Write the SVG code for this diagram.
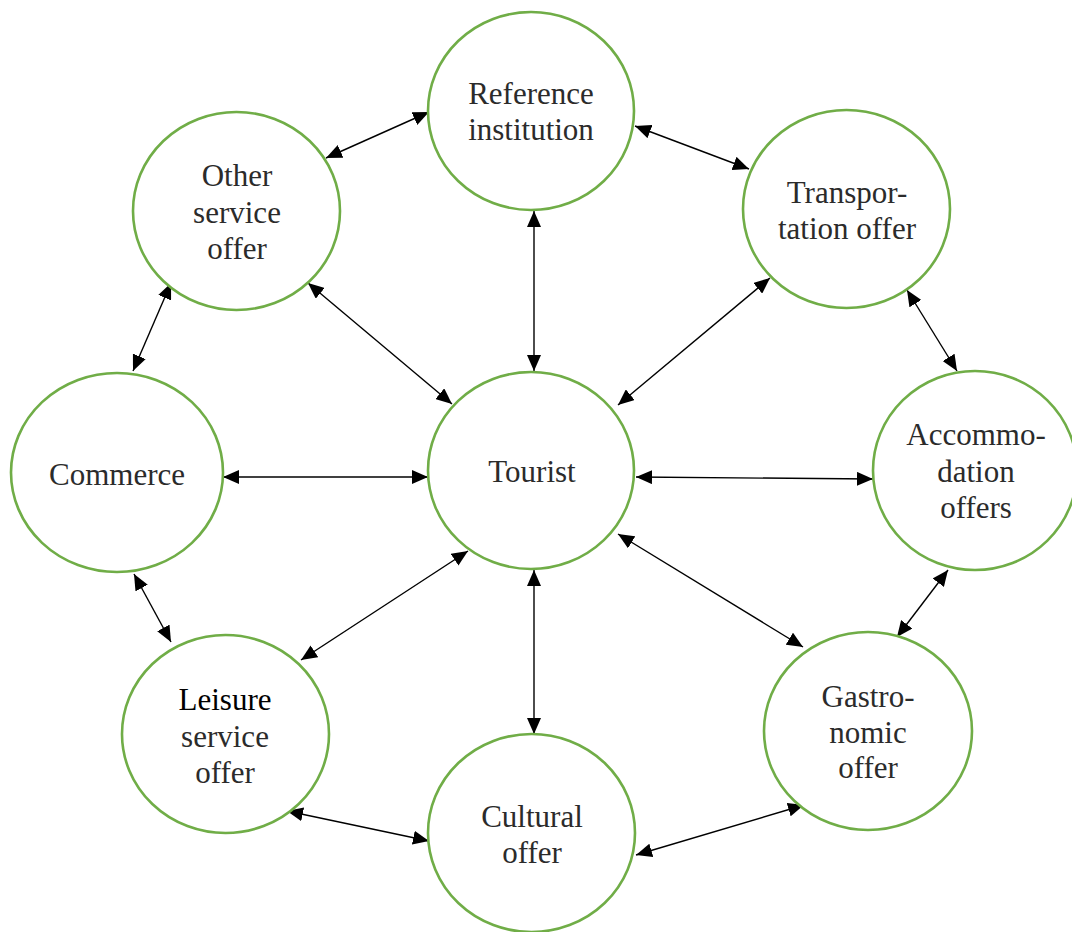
<svg xmlns="http://www.w3.org/2000/svg" width="1072" height="932" viewBox="0 0 1072 932">
<defs>
<marker id="arr" viewBox="0 0 16 14" refX="16" refY="7" markerWidth="16" markerHeight="14" markerUnits="userSpaceOnUse" orient="auto-start-reverse">
<path d="M0,0 L16,7 L0,14 Z" fill="#000"/>
</marker>
<style>
.node ellipse{fill:#fff;stroke:#70AD47;stroke-width:2.6}
.node text{font-family:"Liberation Serif","Times New Roman",serif;font-size:31px;fill:#2b2b2b;text-anchor:middle}
.conn line{stroke:#000;stroke-width:1.4;marker-start:url(#arr);marker-end:url(#arr)}
</style>
</defs>
<rect width="1072" height="932" fill="#fff"/>
<g id="connectors" class="conn">
<line x1="326" y1="158" x2="429" y2="112"/>
<line x1="635" y1="126" x2="749" y2="169"/>
<line x1="534" y1="211" x2="534" y2="371"/>
<line x1="308" y1="283" x2="452" y2="404"/>
<line x1="770" y1="278" x2="618" y2="405"/>
<line x1="171" y1="283" x2="133" y2="371"/>
<line x1="907" y1="290" x2="957" y2="371"/>
<line x1="223" y1="477" x2="428" y2="477"/>
<line x1="636" y1="477" x2="873" y2="479"/>
<line x1="134" y1="574" x2="171" y2="642"/>
<line x1="468" y1="551" x2="301" y2="660"/>
<line x1="534" y1="570" x2="534" y2="734"/>
<line x1="618" y1="534" x2="803" y2="647"/>
<line x1="948" y1="570" x2="897" y2="637"/>
<line x1="287" y1="811" x2="429" y2="841"/>
<line x1="636" y1="855" x2="804" y2="805"/>
</g>
<g id="reference" class="node"><ellipse cx="531" cy="111" rx="103" ry="99"/><text x="531" y="104">Reference</text><text x="531" y="140">institution</text></g>
<g id="other" class="node"><ellipse cx="236.5" cy="211" rx="103.5" ry="99"/><text x="237" y="186">Other</text><text x="237" y="223">service</text><text x="237" y="259">offer</text></g>
<g id="transport" class="node"><ellipse cx="846.5" cy="209" rx="103.5" ry="99"/><text x="847" y="203">Transpor-</text><text x="847" y="239">tation offer</text></g>
<g id="commerce" class="node"><ellipse cx="117" cy="472.5" rx="106" ry="99.5"/><text x="117" y="485">Commerce</text></g>
<g id="tourist" class="node"><ellipse cx="531" cy="470.5" rx="103" ry="98.5"/><text x="532" y="482">Tourist</text></g>
<g id="accommodation" class="node"><ellipse cx="975" cy="470.5" rx="102" ry="99.5"/><text x="976" y="445">Accommo-</text><text x="976" y="482">dation</text><text x="976" y="518">offers</text></g>
<g id="leisure" class="node"><ellipse cx="225.5" cy="734" rx="103.5" ry="99"/><text x="225" y="710" style="fill:#000">Leisure</text><text x="225" y="747">service</text><text x="225" y="783">offer</text></g>
<g id="cultural" class="node"><ellipse cx="531.5" cy="833" rx="103.5" ry="99"/><text x="532" y="827">Cultural</text><text x="532" y="863">offer</text></g>
<g id="gastronomic" class="node"><ellipse cx="868" cy="731" rx="104" ry="99"/><text x="868" y="707">Gastro-</text><text x="868" y="743">nomic</text><text x="868" y="778">offer</text></g>
</svg>
